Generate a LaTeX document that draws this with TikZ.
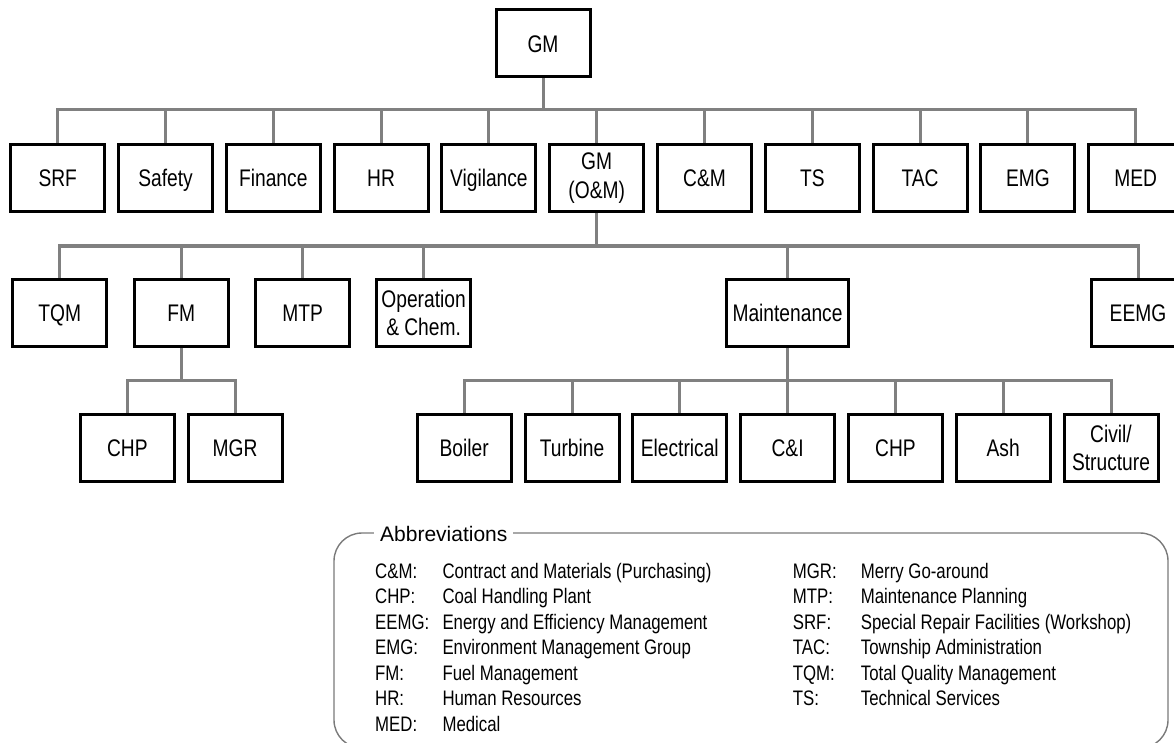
\documentclass[tikz,border=0pt]{standalone}
\usepackage{fontspec}
\setmainfont[FakeStretch=0.8]{Liberation Sans}
\newfontfamily\wideface{Liberation Sans}
\definecolor{linkgray}{HTML}{808080}
\definecolor{framegray}{HTML}{7A7A7A}

\begin{document}
\begin{tikzpicture}[x=1pt,y=-1pt,
  box/.style={draw=black, line width=2pt, fill=white, minimum width=93pt,
    minimum height=66pt, inner sep=0pt, align=center,
    font=\fontsize{24}{28.5}\selectfont},
  unit/.style={box, text height=17.2pt, text depth=0pt},
  twoline/.style={box},
  wideunit/.style={unit, minimum width=121pt},
  link/.style={draw=linkgray, line width=3pt},
  frame/.style={draw=framegray, line width=1.4pt, rounded corners=28pt},
  abbr/.style={anchor=base west, inner sep=0pt, font=\fontsize{21}{25}\selectfont},
]
\useasboundingbox (0,0) rectangle (1174,743);
\clip (0,0) rectangle (1174,743);

% bar levels
\coordinate (bar1) at (0,110);
\coordinate (bar2) at (0,246);
\coordinate (bar3) at (0,380.5);

% top
\node[unit] (gm) at (543,43.5) {GM};

% first level
\node[unit] (srf)  at (57.7,178)  {SRF};
\node[unit] (safe) at (165.5,178) {Safety};
\node[unit] (fin)  at (273.3,178) {Finance};
\node[unit] (hr)   at (381.1,178) {HR};
\node[unit] (vig)  at (488.9,178) {Vigilance};
\node[twoline] (om) at (596.7,178) {GM\\(O\&M)};
\node[unit] (cm)   at (704.5,178) {C\&M};
\node[unit] (ts)   at (812.3,178) {TS};
\node[unit] (tac)  at (920.1,178) {TAC};
\node[unit] (emg)  at (1027.9,178) {EMG};
\node[unit] (med)  at (1135.7,178) {MED};

% second level
\node[unit] (tqm)  at (59.7,313)  {TQM};
\node[unit] (fm)   at (181.2,313) {FM};
\node[unit] (mtp)  at (302.6,313) {MTP};
\node[twoline] (opc) at (423.6,313) {Operation\\\& Chem.};
\node[wideunit] (mnt) at (787.5,313) {Maintenance};
\node[unit] (eemg) at (1138,313) {EEMG};

% third level
\node[unit] (fchp) at (127.3,448) {CHP};
\node[unit] (mgr)  at (235.0,448) {MGR};
\node[unit] (boil) at (464.2,448) {Boiler};
\node[unit] (turb) at (572.0,448) {Turbine};
\node[unit] (elec) at (679.8,448) {Electrical};
\node[unit] (ci)   at (787.6,448) {C\&I};
\node[unit] (mchp) at (895.4,448) {CHP};
\node[unit] (ash)  at (1003.2,448) {Ash};
\node[twoline] (civ) at (1111.0,448) {Civil/\\Structure};

% connectors
\foreach \c in {srf,safe,fin,hr,vig,om,cm,ts,tac,emg,med}
  \draw[link] (gm.south) -- (gm.south |- bar1) -| (\c.north);
\foreach \c in {tqm,fm,mtp,opc,mnt,eemg}
  \draw[link] (om.south) -- (om.south |- bar2) -| (\c.north);
\foreach \c in {fchp,mgr}
  \draw[link] (fm.south) -- (fm.south |- bar3) -| (\c.north);
\foreach \c in {boil,turb,elec,ci,mchp,ash,civ}
  \draw[link] (mnt.south) -- (mnt.south |- bar3) -| (\c.north);

% redraw box borders above the connector ends
\foreach \n in {gm,srf,safe,fin,hr,vig,om,cm,ts,tac,emg,med,tqm,fm,mtp,opc,mnt,eemg,fchp,mgr,boil,turb,elec,ci,mchp,ash,civ}
  \draw[black, line width=2pt] (\n.south west) rectangle (\n.north east);

% abbreviations panel
\draw[frame] (334,533) rectangle (1168,748);
\node[anchor=base west, fill=white, inner xsep=6pt, inner ysep=4pt,
  font=\wideface\fontsize{21}{25}\selectfont] (legtitle) at (374,541) {Abbreviations};

\foreach \a/\d [count=\i from 0] in {C\&M:/Contract and Materials (Purchasing),
    CHP:/Coal Handling Plant, EEMG:/Energy and Efficiency Management,
    EMG:/Environment Management Group, FM:/Fuel Management,
    HR:/Human Resources, MED:/Medical}{
  \node[abbr] (la\i) at (375,578.3+25.5*\i) {\a};
  \node[abbr] (ld\i) at (442.3,578.3+25.5*\i) {\d};
}
\foreach \a/\d [count=\i from 0] in {MGR:/Merry Go-around,
    MTP:/Maintenance Planning, SRF:/Special Repair Facilities (Workshop),
    TAC:/Township Administration, TQM:/Total Quality Management,
    TS:/Technical Services}{
  \node[abbr] (ra\i) at (792.7,578.3+25.5*\i) {\a};
  \node[abbr] (rd\i) at (860.7,578.3+25.5*\i) {\d};
}
\end{tikzpicture}
\end{document}
